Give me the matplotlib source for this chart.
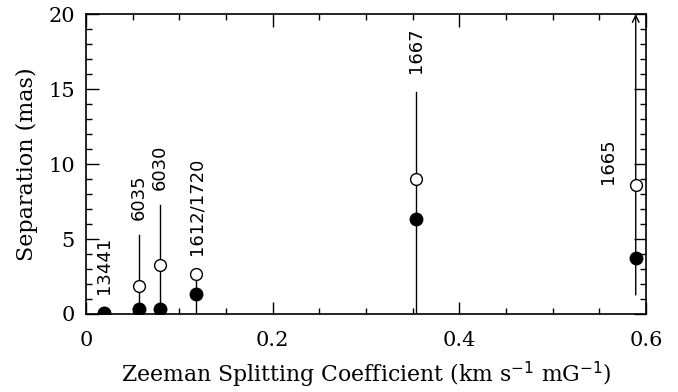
import numpy as np
import matplotlib
matplotlib.use("Agg")
import matplotlib.pyplot as plt

# lineas maser: coeficiente zeeman vs separacion
lineas = ["13441", "6035", "6030", "1612/1720", "1667", "1665"]
coef = [0.019, 0.057, 0.079, 0.118, 0.354, 0.589]
sep_abierto = [0.05, 1.87, 3.27, 2.67, 9.0, 8.6]
sep_lleno = [0.05, 0.35, 0.35, 1.33, 6.33, 3.75]
barra_inf = [0.0, 0.0, 0.0, 0.0, 0.0, 1.27]
barra_sup = [0.0, 5.27, 7.27, 3.0, 14.8, 20.0]
etiqueta_y = [1.3, 6.27, 8.27, 3.93, 16.1, 8.7]
etiqueta_x = [0.019, 0.057, 0.079, 0.118, 0.354, 0.559]

plt.rcParams["font.family"] = "DejaVu Serif"

fig = plt.figure(figsize=(6.78, 3.92), dpi=100)
ax = fig.add_axes([0.1268, 0.199, 0.826, 0.765])

for i in range(len(lineas)):
    if i == 5:
        ax.annotate("", xy=(coef[i], barra_sup[i]), xytext=(coef[i], barra_inf[i]),
                    arrowprops=dict(arrowstyle="->", color="k", lw=1.0,
                                    shrinkA=0, shrinkB=0, mutation_scale=12))
    elif barra_sup[i] > 0:
        ax.plot([coef[i], coef[i]], [barra_inf[i], barra_sup[i]], color="k", lw=1.0)
    ax.text(etiqueta_x[i], etiqueta_y[i], lineas[i], rotation=90, ha="center", va="bottom",
            fontsize=13, family="DejaVu Sans")

ax.plot(coef, sep_abierto, "o", mfc="white", mec="k", mew=1.0, ms=8.5, zorder=3)
ax.plot(coef, sep_lleno, "o", color="k", ms=9, zorder=4)

ax.set_xlim(0, 0.6)
ax.set_ylim(0, 20)
ax.set_xticks([0, 0.2, 0.4, 0.6])
ax.set_xticklabels(["0", "0.2", "0.4", "0.6"])
ax.set_yticks([0, 5, 10, 15, 20])
ax.set_xticks(np.arange(0, 0.61, 0.05), minor=True)
ax.set_yticks(np.arange(0, 21, 1), minor=True)
ax.tick_params(which="both", direction="in", top=True, right=True, labelsize=15, width=1.0)
ax.tick_params(which="major", length=9)
ax.tick_params(axis="x", which="major", pad=12)
ax.tick_params(axis="y", which="major", pad=8)
ax.tick_params(which="minor", length=4.5)
for s in ax.spines.values():
    s.set_linewidth(1.2)

ax.set_xlabel(r"Zeeman Splitting Coefficient (km s$^{-1}$ mG$^{-1}$)", fontsize=15.8, labelpad=7)
ax.set_ylabel("Separation (mas)", fontsize=16, labelpad=7)

plt.savefig("out.png", dpi=100)
